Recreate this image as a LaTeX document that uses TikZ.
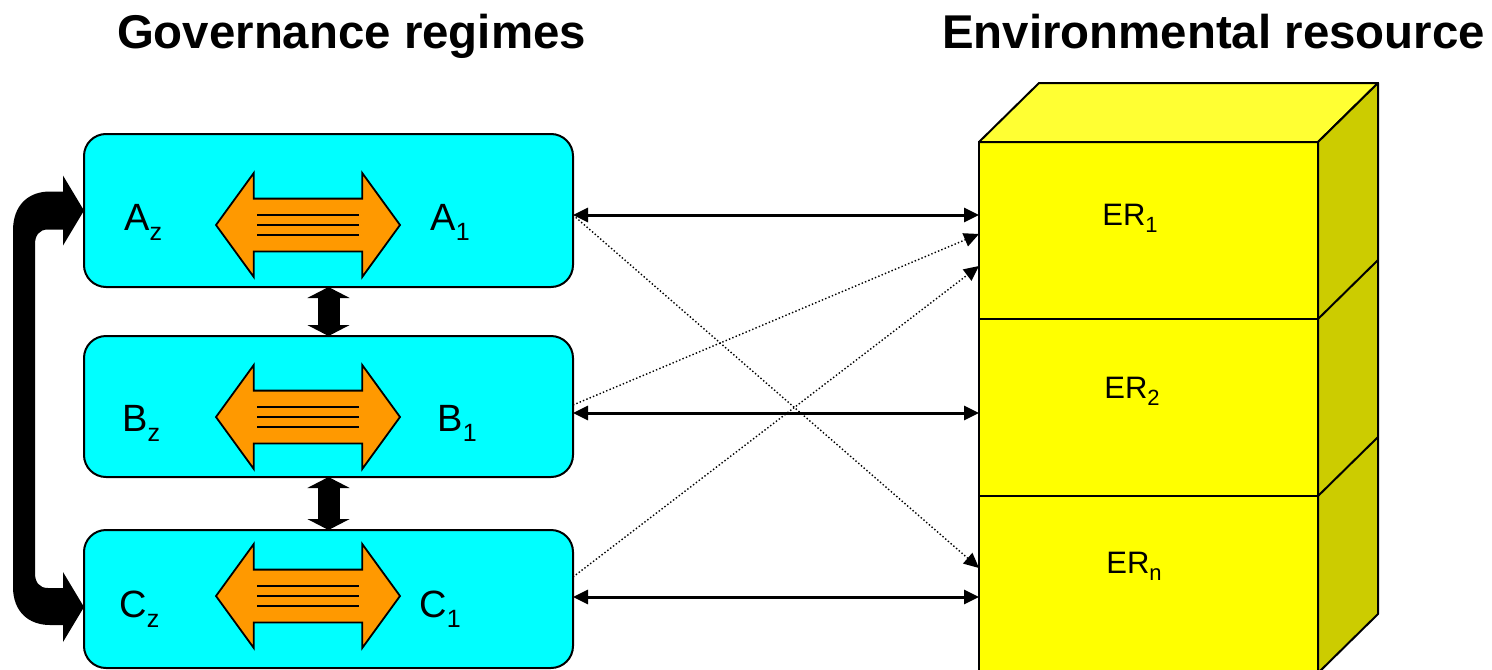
\documentclass[tikz,border=0pt]{standalone}
\usepackage{fontspec}
\setmainfont{Liberation Sans}
\usetikzlibrary{positioning,shapes.arrows,arrows.meta,calc}
\definecolor{boxcyan}{RGB}{0,255,255}
\definecolor{swaporange}{RGB}{255,153,0}
\definecolor{resfront}{RGB}{255,255,0}
\definecolor{restop}{RGB}{255,255,51}
\definecolor{resside}{RGB}{204,204,0}
\newcommand{\lowsub}[3]{\raisebox{#1}{\fontsize{#2}{#2}\selectfont #3}}
\tikzset{
  regime/.style={draw=black, line width=1pt, fill=boxcyan, rounded corners=11pt, minimum width=244.5pt, outer sep=0pt},
  swap/.style={double arrow, draw=black, line width=0.9pt, fill=swaporange, minimum height=92pt, inner xsep=0pt, inner ysep=12.75pt, double arrow head extend=12.75pt, double arrow tip angle=108},
  regime label/.style={anchor=base west, inner sep=0pt, font=\fontsize{19}{22}\selectfont},
  resource/.style={draw=black, line width=1pt, fill=resfront, minimum width=169.5pt, minimum height=88.5pt, outer sep=0pt},
  resource label/.style={anchor=base west, inner sep=0pt, font=\fontsize{15.5}{18}\selectfont},
  heading/.style={anchor=base, inner sep=0pt, font=\fontsize{23.7}{28}\selectfont\bfseries},
  link/.style={line width=1.5pt, {Triangle[width=7pt,length=7.5pt]}-{Triangle[width=7pt,length=7.5pt]}},
  cross link/.style={line width=0.7pt, dash pattern=on 0.7pt off 1.1pt, -{Triangle[width=7pt,length=7.5pt]}},
  level link/.style={line width=11pt, {Triangle[width=21pt,length=5.5pt]}-{Triangle[width=21pt,length=5.5pt]}},
}

\begin{document}
\begin{tikzpicture}[x=0.5pt,y=-0.5pt]
\useasboundingbox (0,0) rectangle (1492,669);
% the headings
\node [heading] (headGov) at (351.5,48) {Governance regimes};
\node [heading] (headEnv) at (1213.5,48) {Environmental resource};
% the regimes
\node [regime, minimum height=76.5pt] (regA) at (328.5,210.5) {};
\node [regime, minimum height=70.5pt, below=24.5pt of regA] (regB) {};
\node [regime, minimum height=69pt, below=26.5pt of regB] (regC) {};
\node [swap] (swapA) at (308,225) {};
\node [swap] (swapB) at (308,417) {};
\node [swap] (swapC) at (308,596) {};
\foreach \s in {swapA,swapB,swapC}
  \foreach \dy in {-10,0,10}
    \draw [line width=0.8pt] ($(\s.center)+(-51,\dy)$) -- ($(\s.center)+(51,\dy)$);
\node [regime label] (labAz) at (124,230) {A\lowsub{-5pt}{12.5}{z}};
\node [regime label] (labA1) at (430,230) {A\lowsub{-5pt}{12.5}{1}};
\node [regime label] (labBz) at (122,431) {B\lowsub{-5pt}{12.5}{z}};
\node [regime label] (labB1) at (437,431) {B\lowsub{-5pt}{12.5}{1}};
\node [regime label] (labCz) at (119,617) {C\lowsub{-5pt}{12.5}{z}};
\node [regime label] (labC1) at (419,617) {C\lowsub{-5pt}{12.5}{1}};
% the resource block
\node [resource] (erOne) at (1148.5,230.5) {};
\node [resource, below=0pt of erOne] (erTwo) {};
\node [resource, below=0pt of erTwo] (erN) {};
\filldraw [fill=restop, line width=1pt, line join=round] (erOne.north west) -- ++(60,-59) -- ($(erOne.north east)+(60,-59)$) -- (erOne.north east) -- cycle;
\filldraw [fill=resside, line width=1pt, line join=round] (erOne.north east) -- ++(60,-59) -- ($(erN.south east)+(60,-59)$) -- (erN.south east) -- cycle;
\draw [line width=1pt] (erOne.south east) -- ++(60,-59);
\draw [line width=1pt] (erTwo.south east) -- ++(60,-59);
\node [resource label] (labEr1) at (1102,225) {ER\lowsub{-3.8pt}{11}{1}};
\node [resource label] (labEr2) at (1104,398) {ER\lowsub{-3.8pt}{11}{2}};
\node [resource label] (labErN) at (1106,573) {ER\lowsub{-3.8pt}{11}{n}};
%drawings of vectors
\draw [level link] (regA.south) -- (regB.north);
\draw [level link] (regB.south) -- (regC.north);

\coordinate (loopA) at (regA.west);
\coordinate (loopC) at ([yshift=-4pt]regC.west);
\fill (loopA) -- ($(loopA)+(-21,-35)$) -- ($(loopA)+(-21,-19)$) -- ($(loopA)+(-34,-19)$)
  .. controls ($(loopA)+(-56,-19)$) and ($(loopA)+(-71,-5)$) .. ($(loopA)+(-71,20)$)
  -- ($(loopC)+(-71,-20)$)
  .. controls ($(loopC)+(-71,5)$) and ($(loopC)+(-55,18)$) .. ($(loopC)+(-34,18)$)
  -- ($(loopC)+(-21,18)$) -- ($(loopC)+(-21,35)$) -- (loopC) -- ($(loopC)+(-21,-35)$) -- ($(loopC)+(-21,-19)$) -- ($(loopC)+(-36,-19)$)
  .. controls ($(loopC)+(-45,-19)$) and ($(loopC)+(-49,-25)$) .. ($(loopC)+(-49,-34)$)
  -- ($(loopA)+(-49,34)$)
  .. controls ($(loopA)+(-49,25)$) and ($(loopA)+(-45,19)$) .. ($(loopA)+(-36,19)$)
  -- ($(loopA)+(-21,19)$) -- ($(loopA)+(-21,35)$) -- cycle;

\draw [link] (regA.east |- 0,215) -- (erOne.west |- 0,215);
\draw [link] (regB.east |- 0,413) -- (erTwo.west |- 0,413);
\draw [link] (regC.east |- 0,597) -- (erN.west |- 0,597);

\draw [cross link] (regA.east |- 0,215) -- (erN.west |- 0,568);
\draw [cross link] (regB.east |- 0,405) -- (erOne.west |- 0,234);
\draw [cross link] (regC.east |- 0,577) -- (erOne.west |- 0,266);
\end{tikzpicture}
\end{document}
